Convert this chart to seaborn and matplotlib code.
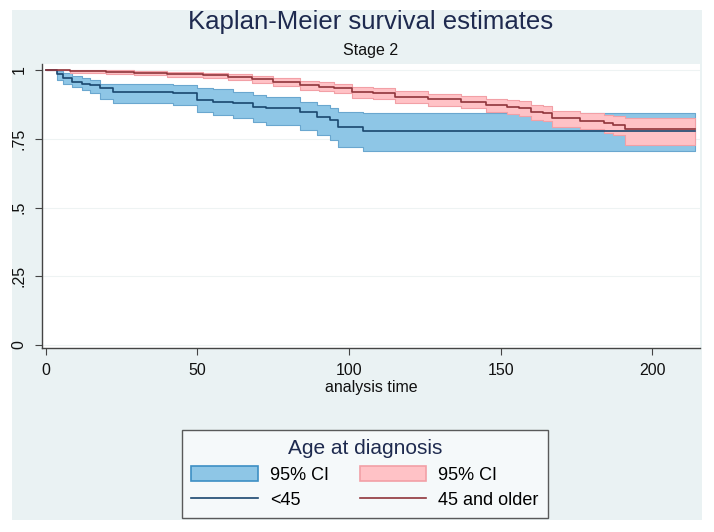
import numpy as np
import pandas as pd
import seaborn as sns
import matplotlib.pyplot as plt
from matplotlib.patches import Patch, Rectangle
from matplotlib.lines import Line2D

# Kaplan-Meier step estimates (Stage 2)

# <45
young_time = [0, 3.6, 5.8, 8.6, 11.9, 14.6, 17.9, 22.3, 42, 49.8, 55.2, 61.8,
              68.4, 72.8, 83.8, 89.3, 93.7, 96.4, 104.7, 214]
young_surv = [1, 0.985, 0.970, 0.957, 0.951, 0.945, 0.933, 0.921, 0.915, 0.891,
              0.885, 0.879, 0.867, 0.861, 0.848, 0.830, 0.818, 0.794, 0.780, 0.780]
young_lo = [1, 0.965, 0.950, 0.938, 0.928, 0.915, 0.895, 0.881, 0.873, 0.848,
            0.836, 0.824, 0.812, 0.800, 0.782, 0.764, 0.745, 0.721, 0.705, 0.705]
young_hi = [1, 0.997, 0.988, 0.978, 0.970, 0.964, 0.951, 0.951, 0.945, 0.933,
            0.930, 0.921, 0.909, 0.903, 0.885, 0.873, 0.861, 0.848, 0.845, 0.845]

# 45 and older
old_time = [0, 8, 20, 29, 40, 52, 60, 68, 75, 84, 90, 95, 101, 108, 115, 126,
            137, 145, 152, 156, 160, 164, 167, 176, 184, 187, 191, 214]
old_surv = [1, 0.997, 0.993, 0.990, 0.986, 0.982, 0.976, 0.966, 0.957, 0.945,
            0.940, 0.933, 0.920, 0.915, 0.903, 0.893, 0.885, 0.873, 0.867, 0.861,
            0.848, 0.843, 0.824, 0.815, 0.806, 0.800, 0.784, 0.784]
old_lo = [1, 0.990, 0.985, 0.981, 0.976, 0.971, 0.965, 0.953, 0.943, 0.929,
          0.923, 0.915, 0.900, 0.894, 0.881, 0.870, 0.861, 0.848, 0.841, 0.834,
          0.820, 0.814, 0.793, 0.785, 0.772, 0.762, 0.727, 0.727]
old_hi = [1, 1.0, 0.999, 0.997, 0.994, 0.991, 0.986, 0.978, 0.970, 0.960,
          0.956, 0.950, 0.938, 0.934, 0.923, 0.914, 0.907, 0.896, 0.891, 0.886,
          0.874, 0.869, 0.852, 0.845, 0.837, 0.832, 0.824, 0.824]

groups = ['<45', '45 and older']
line_colors = {'<45': '#1a476f', '45 and older': '#90353b'}
fill_colors = {'<45': '#8ec6e6', '45 and older': '#ffc2c6'}
edge_colors = {'<45': '#6aa7cf', '45 and older': '#f2a0a6'}

df = pd.concat([
    pd.DataFrame({'time': young_time, 'surv': young_surv, 'lo': young_lo,
                  'hi': young_hi, 'group': '<45'}),
    pd.DataFrame({'time': old_time, 'surv': old_surv, 'lo': old_lo,
                  'hi': old_hi, 'group': '45 and older'}),
], ignore_index=True)

bg = '#eaf2f3'
plt.rcParams['font.family'] = ['Liberation Sans', 'DejaVu Sans']

fig = plt.figure(figsize=(7.14, 5.32), dpi=100, facecolor='white')
# graph region (the screenshot has a thin white margin around it)
fig.patches.append(Rectangle((12 / 714, 1 - 520 / 532), 690 / 714, 510 / 532,
                             transform=fig.transFigure, facecolor=bg,
                             edgecolor='none', zorder=-10))

ax = fig.add_axes([42 / 714, (532 - 348) / 532, 658 / 714, 284 / 532])
ax.set_facecolor('white')

# confidence bands first, then survival lines on top
for g in groups:
    d = df[df['group'] == g]
    ax.fill_between(d['time'], d['lo'], d['hi'], step='post',
                    facecolor=fill_colors[g], edgecolor=edge_colors[g],
                    linewidth=0.8, zorder=2)

sns.lineplot(data=df, x='time', y='surv', hue='group', palette=line_colors,
             hue_order=groups, drawstyle='steps-post', estimator=None,
             linewidth=1.2, legend=False, ax=ax, zorder=3)

ax.set_xlim(-1.2, 215.7)
ax.set_ylim(-0.011, 1.022)
ax.set_xticks([0, 50, 100, 150, 200])
ax.set_yticks([0, 0.25, 0.5, 0.75, 1])
ax.set_yticklabels(['0', '.25', '.5', '.75', '1'], rotation=90, va='center')
ax.yaxis.grid(True, color='#eef3f3', linewidth=0.8)
ax.set_axisbelow(True)

for s in ['top', 'right']:
    ax.spines[s].set_visible(False)
for s in ['left', 'bottom']:
    ax.spines[s].set_color('#444444')
    ax.spines[s].set_linewidth(1.0)
ax.tick_params(axis='both', direction='out', length=5, color='#444444',
               labelsize=11.5, labelcolor='#111111')
ax.tick_params(axis='y', pad=6)
ax.tick_params(axis='x', pad=6)

ax.set_xlabel('analysis time', fontsize=11.5, color='#111111', labelpad=1)
ax.set_ylabel('')

fig.text(371 / 714, 1 - 22 / 532, 'Kaplan-Meier survival estimates',
         ha='center', va='center', fontsize=18.5, color='#1e2a4f')
fig.text(371 / 714, 1 - 51 / 532, 'Stage 2', ha='center', va='center',
         fontsize=11.5, color='#111111')

handles = [
    Patch(facecolor=fill_colors['<45'], edgecolor='#3d8fc4', linewidth=1.2),
    Line2D([], [], color=line_colors['<45'], linewidth=1.2),
    Patch(facecolor=fill_colors['45 and older'], edgecolor='#f2a0a6', linewidth=1.2),
    Line2D([], [], color=line_colors['45 and older'], linewidth=1.2),
]
labels = ['95% CI', '<45', '95% CI', '45 and older']
leg = fig.legend(handles, labels, ncol=2, title='Age at diagnosis',
                 loc='center', bbox_to_anchor=(365 / 714, 1 - 474 / 532),
                 fontsize=13, title_fontsize=15, frameon=True, fancybox=False,
                 handlelength=3.7, handleheight=0.95, columnspacing=1.7,
                 handletextpad=0.65, labelspacing=0.4, borderpad=0.5)
leg.get_title().set_color('#1e2a4f')
leg.get_frame().set_edgecolor('#333333')
leg.get_frame().set_linewidth(1.0)
leg.get_frame().set_facecolor('#f9fcfc')

fig.savefig('out.png', dpi=100, facecolor='white')
